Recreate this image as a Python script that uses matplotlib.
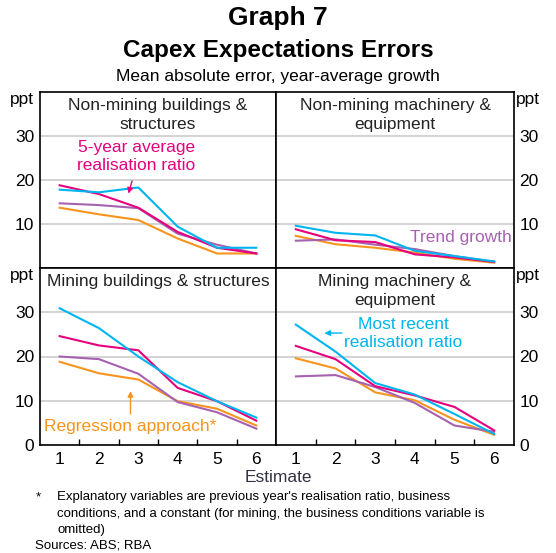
import matplotlib.pyplot as plt

plt.rcParams['font.family'] = ['Liberation Sans', 'DejaVu Sans']

estimates = [1, 2, 3, 4, 5, 6]

# mean absolute error (ppt) for each panel and method
nmb_recent = [17.8, 17.2, 18.3, 9.4, 4.6, 4.6]
nmb_avg5 = [18.8, 16.8, 13.7, 8.2, 4.6, 3.3]
nmb_trend = [14.7, 14.3, 13.6, 7.8, 5.3, 3.3]
nmb_regr = [13.7, 12.2, 10.9, 6.7, 3.3, 3.3]

nmm_recent = [9.6, 8.0, 7.4, 3.9, 2.7, 1.5]
nmm_avg5 = [8.8, 6.3, 5.9, 3.1, 2.4, 1.4]
nmm_trend = [6.2, 6.5, 5.3, 4.3, 2.7, 1.4]
nmm_regr = [7.3, 5.4, 4.6, 3.5, 2.1, 1.2]

mb_recent = [30.9, 26.4, 20.0, 14.2, 9.9, 6.2]
mb_avg5 = [24.6, 22.5, 21.4, 12.9, 9.9, 5.5]
mb_trend = [20.0, 19.4, 16.1, 9.7, 7.4, 3.7]
mb_regr = [18.8, 16.2, 14.8, 9.9, 8.2, 4.4]

mm_recent = [27.2, 21.1, 14.0, 11.4, 7.0, 2.5]
mm_avg5 = [22.4, 19.4, 13.3, 11.2, 8.6, 3.3]
mm_trend = [15.5, 15.8, 13.1, 9.5, 4.4, 3.0]
mm_regr = [19.6, 17.3, 11.9, 10.1, 5.7, 2.3]

panel_titles = ["Non-mining buildings &\nstructures", "Non-mining machinery &\nequipment",
                "Mining buildings & structures", "Mining machinery &\nequipment"]

c_recent = '#00B5EF'
c_avg5 = '#E5007D'
c_trend = '#A661B0'
c_regr = '#F7941D'
grid_col = '#C8C8C8'
fs = 12.5

fig = plt.figure(figsize=(5.56, 5.53), dpi=100)
W, H = 556, 553

def px_axes(x0, y0, x1, y1):
    return fig.add_axes([x0 / W, 1 - y1 / H, (x1 - x0) / W, (y1 - y0) / H])

ax_tl = px_axes(40, 92, 276, 268)
ax_tr = px_axes(276, 92, 514, 268)
ax_bl = px_axes(40, 268, 276, 445)
ax_br = px_axes(276, 268, 514, 445)

panels = [
    (ax_tl, nmb_recent, nmb_avg5, nmb_trend, nmb_regr),
    (ax_tr, nmm_recent, nmm_avg5, nmm_trend, nmm_regr),
    (ax_bl, mb_recent, mb_avg5, mb_trend, mb_regr),
    (ax_br, mm_recent, mm_avg5, mm_trend, mm_regr),
]

for i, (ax, rec, avg, tr, reg) in enumerate(panels):
    ax.set_xlim(0.5, 6.5)
    ax.set_ylim(0, 40)
    for g in [10, 20, 30]:
        ax.axhline(g, color=grid_col, lw=1.1, zorder=0)
    ax.plot(estimates, reg, color=c_regr, lw=1.5)
    ax.plot(estimates, tr, color=c_trend, lw=1.5)
    ax.plot(estimates, avg, color=c_avg5, lw=1.5)
    ax.plot(estimates, rec, color=c_recent, lw=1.5)
    for s in ax.spines.values():
        s.set_linewidth(1.2)
    ax.text(0.5, 0.965, panel_titles[i], transform=ax.transAxes, ha='center', va='top',
            fontsize=fs, color='#222222', linespacing=1.3)

    right = i % 2 == 1
    top = i < 2
    if top:
        ax.set_yticks([10, 20, 30])
        ax.set_xticks([])
    else:
        ax.set_yticks([0, 10, 20, 30])
        ax.set_xticks(estimates)
        ax.set_xticks([1.5, 2.5, 3.5, 4.5, 5.5], minor=True)
        ax.tick_params(axis='x', which='major', length=0, labelsize=fs, pad=5)
        ax.tick_params(axis='x', which='minor', direction='in', length=4, width=1)
    ax.tick_params(axis='y', length=0, labelsize=fs, pad=4,
                   left=False, right=False, labelleft=not right, labelright=right)
    if right:
        ax.text(1.01, 0.955, "ppt", transform=ax.transAxes, ha='left', va='center', fontsize=fs)
    else:
        ax.text(-0.025, 0.955, "ppt", transform=ax.transAxes, ha='right', va='center', fontsize=fs)

# annotations
ax_tl.text(2.95, 25.3, "5-year average\nrealisation ratio", color=c_avg5, ha='center', va='center',
           fontsize=fs, linespacing=1.2)
ax_tl.annotate("", xy=(2.73, 16.3), xytext=(2.86, 20.4),
               arrowprops=dict(arrowstyle='-|>', color=c_avg5, lw=1, mutation_scale=8))
ax_tr.text(6.45, 6.9, "Trend growth", color=c_trend, ha='right', va='center', fontsize=fs)
ax_br.text(3.71, 25.2, "Most recent\nrealisation ratio", color=c_recent, ha='center', va='center',
           fontsize=fs, linespacing=1.2)
ax_br.annotate("", xy=(1.65, 25.3), xytext=(2.23, 25.3),
               arrowprops=dict(arrowstyle='-|>', color=c_recent, lw=1, mutation_scale=8))
ax_bl.text(2.8, 4.1, "Regression approach*", color=c_regr, ha='center', va='center', fontsize=fs)
ax_bl.annotate("", xy=(2.8, 12.8), xytext=(2.8, 6.4),
               arrowprops=dict(arrowstyle='-|>', color=c_regr, lw=1, mutation_scale=8))

# titles
fig.text(278 / W, 1 - 18 / H, "Graph 7", ha='center', va='center', fontsize=19, fontweight='bold')
fig.text(278 / W, 1 - 51 / H, "Capex Expectations Errors", ha='center', va='center',
         fontsize=17.5, fontweight='bold')
fig.text(278 / W, 1 - 76 / H, "Mean absolute error, year-average growth", ha='center', va='center',
         fontsize=12.5)
fig.text(278 / W, 1 - 478 / H, "Estimate", ha='center', va='center', fontsize=12.5, color='#333344')

# footnotes
fig.text(38 / W, 1 - 497 / H, "*", ha='center', va='center', fontsize=9.5)
fig.text(57 / W, 1 - 491 / H,
         "Explanatory variables are previous year's realisation ratio, business\n"
         "conditions, and a constant (for mining, the business conditions variable is\n"
         "omitted)", ha='left', va='top', fontsize=9.5, linespacing=1.5)
fig.text(35 / W, 1 - 545 / H, "Sources: ABS; RBA", ha='left', va='center', fontsize=9.5)

fig.savefig("out.png", dpi=100)
